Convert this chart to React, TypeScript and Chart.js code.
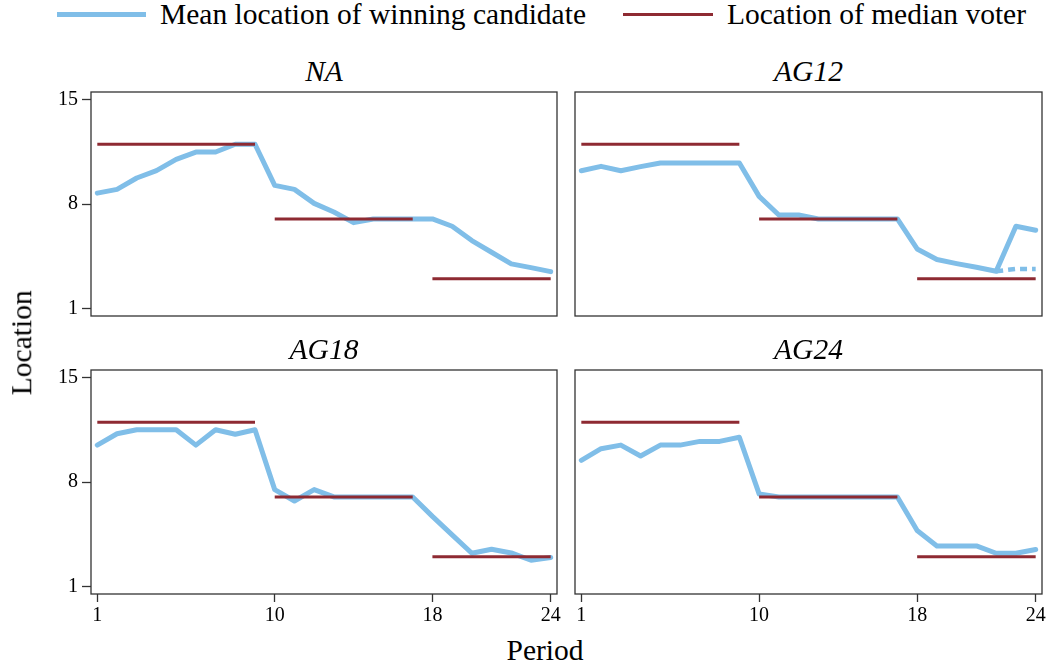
import React, { useEffect, useRef } from 'react';
import { Chart, registerables } from 'chart.js';
Chart.register(...registerables);

const SERIF = "'Liberation Serif', 'Times New Roman', serif";

const periods = [1, 2, 3, 4, 5, 6, 7, 8, 9, 10, 11, 12, 13, 14, 15, 16, 17, 18, 19, 20, 21, 22, 23, 24];
const xTicks = [1, 10, 18, 24];
const yTicks = [1, 8, 15];

const naWinner = [8.73, 8.98, 9.74, 10.23, 10.99, 11.48, 11.48, 12, 12, 9.25, 8.98, 8.04, 7.46, 6.75, 7, 7, 7, 7, 6.51, 5.55, 4.77, 3.99, 3.74, 3.47];
const ag12Winner = [10.23, 10.52, 10.23, 10.5, 10.74, 10.74, 10.74, 10.74, 10.74, 8.51, 7.26, 7.26, 7, 7, 7, 7, 7, 4.99, 4.28, 4.01, 3.76, 3.5, 6.51, 6.24];
const ag12Dotted = [null, null, null, null, null, null, null, null, null, null, null, null, null, null, null, null, null, null, null, null, null, 3.5, 3.65, 3.65];
const ag18Winner = [10.47, 11.23, 11.5, 11.5, 11.5, 10.47, 11.5, 11.2, 11.5, 7.49, 6.73, 7.49, 7, 7, 7, 7, 7, 5.7, 4.46, 3.23, 3.5, 3.25, 2.76, 2.95];
const ag24Winner = [9.45, 10.23, 10.47, 9.74, 10.47, 10.47, 10.72, 10.72, 11, 7.2, 7, 7, 7, 7, 7, 7, 7, 4.75, 3.72, 3.72, 3.72, 3.23, 3.23, 3.48];

const medianVoter = [12, 12, 12, 12, 12, 12, 12, 12, 12, 7, 7, 7, 7, 7, 7, 7, 7, 3, 3, 3, 3, 3, 3, 3];
const stageOfPeriod = [1, 1, 1, 1, 1, 1, 1, 1, 1, 2, 2, 2, 2, 2, 2, 2, 2, 3, 3, 3, 3, 3, 3, 3];
const stages = [1, 2, 3];

const BLUE = 'rgb(128,190,232)';
const RED = 'rgb(142,42,50)';
const AXIS = '#333333';

const frameBox = {
  id: 'frameBox',
  afterDraw(chart: any) {
    const { ctx, chartArea } = chart;
    const { left, top, right, bottom } = chartArea;
    ctx.save();
    ctx.strokeStyle = AXIS;
    ctx.lineWidth = 1.3;
    ctx.strokeRect(left, top, right - left, bottom - top);
    ctx.restore();
  },
};

type Frame = { l: number; t: number; r: number; b: number };

function Panel(props: { title: string; winner: number[]; dotted?: (number | null)[]; frame: Frame; showY: boolean; showX: boolean }) {
  const { title, winner, dotted, frame, showY, showX } = props;
  const ref = useRef<HTMLCanvasElement>(null);
  const padL = showY ? 70 : 14;
  const padT = 22;
  const padR = 14;
  const padB = showX ? 40 : 22;
  const w = frame.r - frame.l + padL + padR;
  const h = frame.b - frame.t + padT + padB;

  useEffect(() => {
    const medianSets = stages.map((s) => ({
      data: periods.filter((p, i) => stageOfPeriod[i] === s).map((p) => ({ x: p, y: medianVoter[p - 1] })),
      borderColor: RED,
      borderWidth: 3,
      pointRadius: 0,
      order: 0,
    }));
    const datasets: any[] = [
      ...medianSets,
      {
        data: periods.map((p, i) => ({ x: p, y: winner[i] })),
        borderColor: BLUE,
        borderWidth: 5,
        borderCapStyle: 'round',
        borderJoinStyle: 'round',
        pointRadius: 0,
        order: 2,
      },
    ];
    if (dotted) {
      datasets.push({
        data: periods.map((p, i) => ({ x: p, y: dotted[i] })),
        borderColor: BLUE,
        borderWidth: 4.5,
        borderDash: [7, 5],
        borderCapStyle: 'butt',
        pointRadius: 0,
        spanGaps: false,
        order: 1,
      });
    }
    const chart = new Chart(ref.current as HTMLCanvasElement, {
      type: 'line',
      data: { datasets },
      options: {
        animation: false,
        responsive: false,
        maintainAspectRatio: false,
        layout: {
          autoPadding: false,
          padding: { left: showY ? 0 : padL, top: padT, right: padR, bottom: showX ? 0 : padB },
        } as any,
        plugins: { legend: { display: false }, tooltip: { enabled: false }, title: { display: false } },
        scales: {
          x: {
            type: 'linear',
            display: showX,
            min: 0.68,
            max: 24.32,
            afterBuildTicks: (s: any) => {
              s.ticks = xTicks.map((v) => ({ value: v }));
            },
            afterFit: (s: any) => {
              if (showX) s.height = padB;
            },
            ticks: { autoSkip: false, maxRotation: 0, font: { family: SERIF, size: 20 }, color: '#000', padding: 2 },
            grid: { drawOnChartArea: false, drawTicks: true, tickLength: 8, tickColor: AXIS, tickWidth: 1.3 },
            border: { display: false },
          },
          y: {
            type: 'linear',
            display: showY,
            min: 0.5,
            max: 15.5,
            afterBuildTicks: (s: any) => {
              s.ticks = yTicks.map((v) => ({ value: v }));
            },
            afterFit: (s: any) => {
              if (showY) s.width = padL;
            },
            ticks: { autoSkip: false, font: { family: SERIF, size: 20 }, color: '#000', padding: 4 },
            grid: { drawOnChartArea: false, drawTicks: true, tickLength: 9, tickColor: AXIS, tickWidth: 1.3 },
            border: { display: false },
          },
        },
      } as any,
      plugins: [frameBox],
    });
    return () => chart.destroy();
  }, []);

  return (
    <>
      <div
        style={{
          position: 'absolute',
          left: frame.l,
          width: frame.r - frame.l,
          top: frame.t - 34.6,
          textAlign: 'center',
          fontFamily: SERIF,
          fontStyle: 'italic',
          fontSize: 29.5,
          lineHeight: '29.5px',
          color: '#000',
          whiteSpace: 'nowrap',
        }}
      >
        {title}
      </div>
      <canvas
        ref={ref}
        width={w}
        height={h}
        style={{ position: 'absolute', left: frame.l - padL, top: frame.t - padT, width: w, height: h }}
      />
    </>
  );
}

export default function App() {
  const text: React.CSSProperties = {
    position: 'absolute',
    fontFamily: SERIF,
    fontSize: 29.5,
    lineHeight: '29.5px',
    color: '#000',
    whiteSpace: 'nowrap',
  };
  return (
    <div style={{ position: 'absolute', left: 0, top: 0, width: 1048, height: 668, background: '#fff', overflow: 'hidden' }}>
      <div style={{ position: 'absolute', left: 57, top: 11.7, width: 89, height: 5, background: BLUE }} />
      <div style={{ ...text, left: 160, top: 0.4 }}>Mean location of winning candidate</div>
      <div style={{ position: 'absolute', left: 623, top: 12.7, width: 90, height: 3, background: RED }} />
      <div style={{ ...text, left: 727, top: 0.4 }}>Location of median voter</div>

      <Panel title="NA" winner={naWinner} frame={{ l: 91, t: 92, r: 557, b: 316 }} showY={true} showX={false} />
      <Panel title="AG12" winner={ag12Winner} dotted={ag12Dotted} frame={{ l: 575, t: 92, r: 1042, b: 316 }} showY={false} showX={false} />
      <Panel title="AG18" winner={ag18Winner} frame={{ l: 91, t: 370, r: 557, b: 594 }} showY={true} showX={true} />
      <Panel title="AG24" winner={ag24Winner} frame={{ l: 575, t: 370, r: 1042, b: 594 }} showY={false} showX={true} />

      <div
        style={{
          ...text,
          left: 22.2 - 100,
          top: 342.5 - 14.75,
          width: 200,
          textAlign: 'center',
          transform: 'rotate(-90deg)',
          transformOrigin: 'center center',
        }}
      >
        Location
      </div>
      <div style={{ ...text, left: 445, width: 200, textAlign: 'center', top: 636.2 }}>Period</div>
    </div>
  );
}
